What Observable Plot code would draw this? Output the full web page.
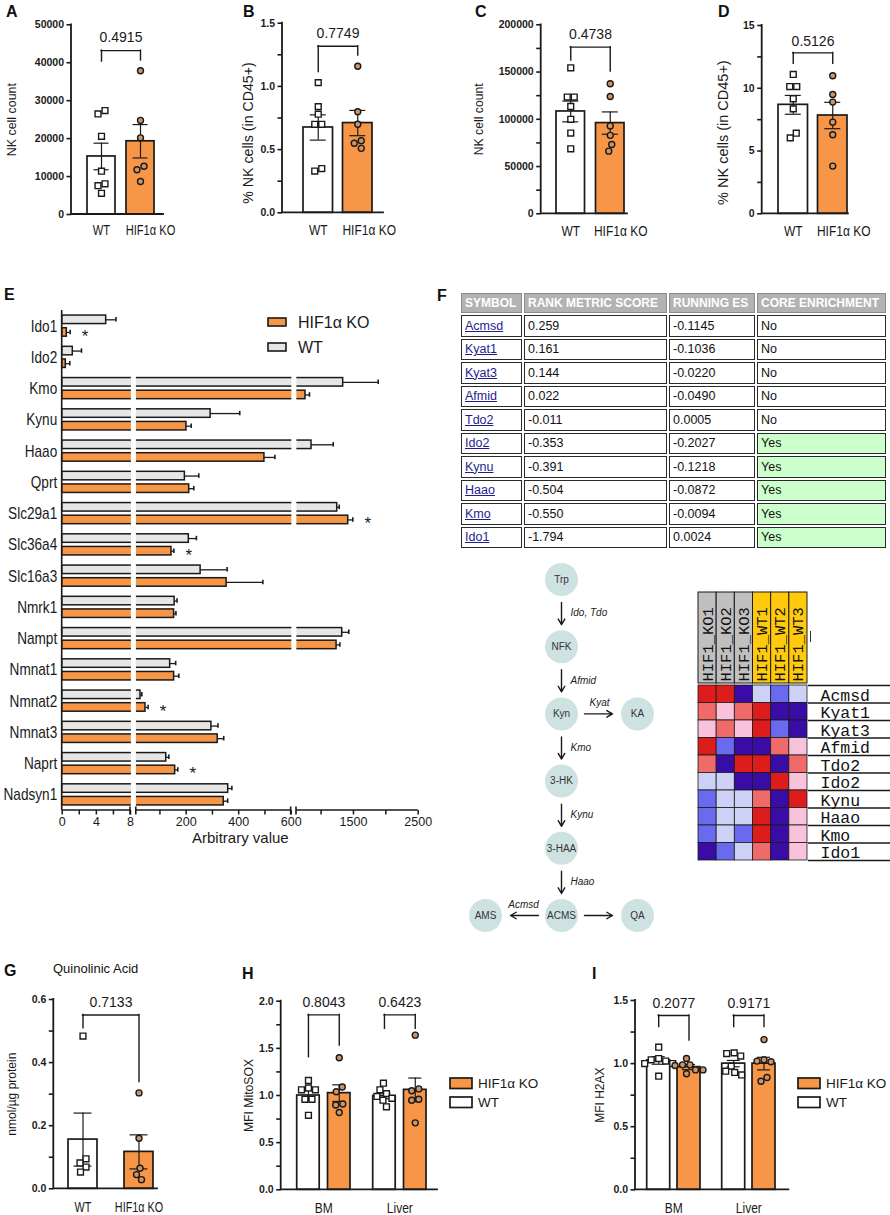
<!DOCTYPE html>
<html><head><meta charset="utf-8">
<script src="https://cdn.jsdelivr.net/npm/d3@7"></script>
<script src="https://cdn.jsdelivr.net/npm/@observablehq/plot@0.6"></script>
<style>
html,body{margin:0;padding:0;background:#fff;}
#root{position:relative;width:890px;height:1215px;overflow:hidden;background:#fff;font-family:'Liberation Sans',Arial,Helvetica,sans-serif;color:#111;}
.gp [aria-label^="y-axis"] text{font-weight:bold;}
.gp [aria-label^="y-axis"] line,.gp [aria-label^="y-axis"] path{stroke-width:1.6px;}
.ep [aria-label^="y-axis"] text{font-size:17px;}
.ep [aria-label^="x-axis"] line,.ep [aria-label^="x-axis"] path{stroke-width:1.5px;}
.lbl{position:absolute;white-space:nowrap;line-height:1;}
#gsea{position:absolute;left:459px;top:291px;border-collapse:separate;border-spacing:2px;table-layout:fixed;font-family:'Liberation Sans',Arial,sans-serif;}
#gsea th,#gsea td{border:1px solid #2a2a2a;padding:0 3px;text-align:left;vertical-align:middle;white-space:nowrap;overflow:hidden;}
#gsea th{background:#b3b3b3;color:#fff;font-weight:bold;font-size:12px;height:18px;border-color:#8c8c8c;}
#gsea td{height:19.5px;font-size:12.5px;color:#111;}
#gsea td.sym{color:#1d1d8f;text-decoration:underline;}
#gsea td.yes{background:#ccffcc;}
</style></head>
<body><div id="root"></div>
<script>
// ================= DATA =================
const seriesLabels = ["WT", "HIF1α KO"];
// Panel A – NK cell count
const aWT = [27400, 26500, 20600, 11400, 8100, 7600, 5600];
const aKO = [37900, 24800, 20200, 12700, 11800, 8700];
const aMean = [15300, 19300], aSem = [3500, 4400];
const aBracket = [43200, 40300, 40600], aP = "0.4915";
const aTicks = [0, 10000, 20000, 30000, 40000, 50000];
// Panel B – % NK cells
const bWT = [1.03, 0.84, 0.78, 0.70, 0.70, 0.33, 0.35];
const bKO = [1.16, 0.80, 0.70, 0.57, 0.55, 0.51];
const bMean = [0.675, 0.71], bSem = [0.10, 0.10];
const bBracket = [1.318, 1.113, 1.245], bP = "0.7749";
const bTicks = [0, 0.5, 1.0, 1.5], bMinor = [0.25, 0.75, 1.25];
// Panel C – NK cell count
const cWT = [154500, 123500, 123500, 113600, 100000, 85400, 68800];
const cKO = [137600, 124200, 93000, 83000, 73400, 66300];
const cMean = [108300, 96000], cSem = [11000, 11800];
const cBracket = [176400, 162300, 150600], cP = "0.4738";
const cTicks = [0, 50000, 100000, 150000, 200000], cMinor = [25000, 75000, 125000, 175000];
// Panel D – % NK cells
const dWT = [11.1, 10.14, 10.14, 9.16, 8.36, 6.05, 6.42];
const dKO = [11.0, 9.5, 8.9, 7.3, 6.3, 3.8];
const dMean = [8.68, 7.83], dSem = [0.75, 1.05];
const dBracket = [12.82, 11.95, 11.95], dP = "0.5126";
const dTicks = [0, 5, 10, 15], dMinor = [2.5, 7.5, 12.5];
// Panel E – expression
const eGenes = ["Ido1","Ido2","Kmo","Kynu","Haao","Qprt","Slc29a1","Slc36a4","Slc16a3","Nmrk1","Nampt","Nmnat1","Nmnat2","Nmnat3","Naprt","Nadsyn1"];
const eWT    = [5.15, 1.24, 1341, 293, 852, 195, 1249, 210, 255, 156, 1326, 139, 26, 296, 124, 360];
const eWTerr = [1.15, 1.02, 541, 111, 335, 53, 31, 29, 101, 9, 102, 21, 5, 25, 10, 14];
const eKO    = [0.54, 0.42, 759, 201, 498, 211.5, 1419, 144, 354, 154, 1239, 154, 45, 320, 158, 343];
const eKOerr = [0.39, 0.47, 62, 18, 40, 17.5, 71, 9, 138, 7, 51, 18, 10, 23, 10, 15];
const eStars = ["Ido1", "Slc29a1", "Slc36a4", "Nmnat2", "Naprt"];
const eTickValues = [0, 2, 4, 6, 8, 100, 200, 300, 400, 500, 600, 1000, 1500, 2000, 2500];
const eTickLabels = [0, 4, 8, 200, 400, 600, 1500, 2500];
// Panel F – GSEA table
const tHeaders = ["SYMBOL", "RANK METRIC SCORE", "RUNNING ES", "CORE ENRICHMENT"];
const tSymbols = ["Acmsd","Kyat1","Kyat3","Afmid","Tdo2","Ido2","Kynu","Haao","Kmo","Ido1"];
const tRank = ["0.259","0.161","0.144","0.022","-0.011","-0.353","-0.391","-0.504","-0.550","-1.794"];
const tES = ["-0.1145","-0.1036","-0.0220","-0.0490","0.0005","-0.2027","-0.1218","-0.0872","-0.0094","0.0024"];
const tCore = ["No","No","No","No","No","Yes","Yes","Yes","Yes","Yes"];
// Pathway
const pwNames = ["Trp","NFK","Kyn","KA","3-HK","3-HAA","ACMS","AMS","QA"];
const pwCol = [0, 0, 0, 1, 0, 0, 0, -1, 1];
const pwRow = [0, 1, 2, 2, 3, 4, 5, 5, 5];
const pwFrom = ["Trp","NFK","Kyn","Kyn","3-HK","3-HAA","ACMS","ACMS"];
const pwTo = ["NFK","Kyn","KA","3-HK","3-HAA","ACMS","AMS","QA"];
const pwEnzyme = ["Ido, Tdo","Afmid","Kyat","Kmo","Kynu","Haao","Acmsd",""];
// Heatmap
const hmSamples = ["HIF1_KO1","HIF1_KO2","HIF1_KO3","HIF1_WT1","HIF1_WT2","HIF1_WT3"];
const hmGenes = ["Acmsd","Kyat1","Kyat3","Afmid","Tdo2","Ido2","Kynu","Haao","Kmo","Ido1"];
const hmValues = [
  [3, 3, -3, -1, -2, -1],
  [2, 1, 2, 3, -3, -3],
  [1, 2, 1, 3, -2, -3],
  [3, -2, -3, -3, 2, 1],
  [2, -3, 3, 3, -3, 2],
  [-1, -1, -3, -3, 3, 1],
  [-2, -1, -1, 2, -3, 3],
  [-2, -1, -1, 3, -3, 1],
  [-2, -1, -2, 3, -3, 1],
  [-3, -2, -1, 2, -3, 1]
];
const hmLevels = [-3, -2, -1, 1, 2, 3];
// Panel G – Quinolinic acid
const gWT = [0.484, 0.095, 0.082, 0.069, 0.053];
const gKO = [0.304, 0.16, 0.065, 0.045, 0.029];
const gMean = [0.156, 0.117], gSem = [0.084, 0.054];
const gBracket = [0.551, 0.509, 0.338], gP = "0.7133";
const gTicks = [0, 0.2, 0.4, 0.6], gMinor = [0.1, 0.3, 0.5];
// Panel H – MitoSOX
const hGroups = ["BM", "Liver"];
const hWT = [[1.16, 1.06, 1.06, 1.08, 0.96, 0.96, 0.79], [1.13, 1.06, 1.02, 0.99, 0.97, 0.95, 0.88]];
const hKO = [[1.40, 1.09, 1.04, 0.90, 0.91, 0.82], [1.64, 1.07, 1.05, 0.96, 0.95, 0.71]];
const hMeanWT = [1.0, 0.995], hSemWT = [0.05, 0.03];
const hMeanKO = [1.025, 1.06], hSemKO = [0.088, 0.125];
const hTop = [1.855, 1.855], hLegWT = [1.406, 1.707], hLegKO = [1.53, 1.707], hP = ["0.8043", "0.6423"];
const hTicks = [0, 0.5, 1.0, 1.5, 2.0], hMinor = [0.25, 0.75, 1.25, 1.75];
// Panel I – H2AX
const iGroups = ["BM", "Liver"];
const iWT = [[1.13, 1.04, 1.03, 1.02, 1.0, 1.0, 0.90], [1.08, 1.085, 1.06, 0.98, 0.94, 0.93, 0.91]];
const iKO = [[1.04, 0.99, 0.99, 0.985, 0.95, 0.95, 0.92], [1.19, 1.03, 1.015, 1.02, 0.86, 0.89]];
const iMeanWT = [1.025, 1.0], iSemWT = [0.03, 0.025];
const iMeanKO = [0.972, 1.0], iSemKO = [0.02, 0.05];
const iTop = [1.381, 1.381], iLegWT = [1.289, 1.289], iLegKO = [1.183, 1.289], iP = ["0.2077", "0.9171"];
const iTicks = [0, 0.5, 1.0, 1.5], iMinor = [0.25, 0.75, 1.25];

// ================= STYLE =================
const FONT = "'Liberation Sans', Arial, Helvetica, sans-serif";
const MONO = "'Liberation Mono', 'DejaVu Sans Mono', 'Courier New', monospace";
const INK = "#1a1a1a";
const ORANGE = "#f79646";
const DOT_KO = "#cf9566";
const WT_GRAY = "#e6e6e6";
const HM_COLORS = ["#3a0ca6", "#6a6aee", "#cdd1f5", "#f8c2db", "#f06a6a", "#dd1c1c"];
const SVGNS = "http://www.w3.org/2000/svg";
const root = document.getElementById("root");

function put(node, left, top, cls) {
  node.style.position = "absolute";
  node.style.left = left + "px";
  node.style.top = top + "px";
  if (cls) node.classList.add(cls);
  root.appendChild(node);
  return node;
}
function label(text, left, baseline, size, css = "") {
  const d = document.createElement("div");
  d.className = "lbl";
  d.textContent = text;
  d.style.cssText += `left:${left}px;top:${baseline - 0.8465 * size}px;font-size:${size}px;${css}`;
  root.appendChild(d);
  return d;
}
// narrow (condensed) rendering of selected labels, as in the source figure
function condense(svg, texts, k) {
  for (const t of svg.querySelectorAll("text")) {
    if (!texts.includes(t.textContent)) continue;
    const len = t.getComputedTextLength();
    if (len > 0) { t.setAttribute("textLength", (len * k).toFixed(2)); t.setAttribute("lengthAdjust", "spacingAndGlyphs"); }
  }
}
function svgMark(draw) {
  return (index, scales, values, dims) => {
    const g = document.createElementNS(SVGNS, "g");
    g.innerHTML = draw(scales, dims);
    return g;
  };
}
function beeswarm(vals, ppu, diam) {
  const order = d3.range(vals.length).sort((a, b) => vals[b] - vals[a]);
  const placed = [], out = new Array(vals.length);
  for (const i of order) {
    const y = vals[i] * ppu;
    const near = placed.filter(p => Math.abs(p.y - y) < diam);
    const cands = [0];
    for (const p of near) {
      const h = Math.sqrt(Math.max(0, diam * diam - (p.y - y) ** 2));
      cands.push(p.dx + h, p.dx - h);
    }
    cands.sort((a, b) => Math.abs(a) - Math.abs(b) || a - b);
    const dx = cands.find(cv => near.every(p => (p.dx - cv) ** 2 + (p.y - y) ** 2 >= diam * diam - 0.01)) ?? 0;
    placed.push({y, dx, i});
    out[i] = dx;
  }
  const sorted = placed.slice().sort((a, b) => a.y - b.y);
  let cl = [];
  const flush = () => {
    if (cl.length > 1) {
      const sh = -(d3.min(cl, p => p.dx) + d3.max(cl, p => p.dx)) / 2;
      cl.forEach(p => out[p.i] = p.dx + sh);
    }
    cl = [];
  };
  for (const p of sorted) {
    if (cl.length && p.y - cl[cl.length - 1].y >= diam) flush();
    cl.push(p);
  }
  flush();
  return out;
}

// ================= GraphPad-style panel =================
function gpPanel(c) {
  const mL = c.axisX - c.left, mR = c.left + c.width - c.xEnd;
  const mT = c.yTop - c.top, mB = c.top + c.height - c.yBottom;
  const W = c.xEnd - c.axisX, n = c.groups.length;
  const bw = c.spans[0][1] - c.spans[0][0];
  const step = n > 1 ? c.spans[1][0] - c.spans[0][0] : bw;
  const pi = n > 1 ? 1 - bw / step : 0;
  const po = (W / step - n + pi) / 2;
  const align = Math.max(0, Math.min(1, (c.spans[0][0] - c.axisX) / (W - step * (n - pi))));
  const barW = c.barW, off = (bw - barW) / 2, capW = c.capW;
  const ppu = (c.yBottom - c.yTop) / (c.domain[1] - c.domain[0]);
  const marks = [];
  if (c.minor) marks.push(Plot.ruleY(c.minor, {insetRight: W - 4.5, dx: -4.5, stroke: INK, strokeWidth: 1.6}));
  const statsOf = s => c.groups.map((g, gi) => ({group: g, mean: s.mean[gi], sem: s.sem[gi]}));
  c.series.forEach((s, si) => {
    marks.push(Plot.barY(statsOf(s), {x: "group", y: "mean", fill: s.fill, stroke: INK, strokeWidth: 1.7,
      insetLeft: si ? bw - barW : 0, insetRight: si ? 0 : bw - barW}));
  });
  c.series.forEach((s, si) => {
    const sign = si ? 1 : -1;
    const st = statsOf(s);
    const capIn = barW / 2 - capW / 2, capOut = bw - barW / 2 - capW / 2;
    marks.push(Plot.ruleX(st, {x: "group", y1: d => d.mean - d.sem, y2: d => d.mean + d.sem, dx: sign * off, stroke: INK, strokeWidth: 1.2}));
    for (const yv of [d => d.mean - d.sem, d => d.mean + d.sem])
      marks.push(Plot.tickY(st, {x: "group", y: yv, insetLeft: si ? capOut : capIn, insetRight: si ? capIn : capOut, stroke: INK, strokeWidth: 1.2}));
  });
  c.series.forEach((s, si) => {
    const sign = si ? 1 : -1;
    c.groups.forEach((g, gi) => {
      const vals = s.points[gi];
      const dxs = beeswarm(vals, ppu, 7.4);
      const pts = vals.map((v, i) => ({group: g, v, dx: Math.round(dxs[i] * 2) / 2}));
      for (const [dx, arr] of d3.group(pts, d => d.dx))
        marks.push(Plot.dot(arr, {x: "group", y: "v", dx: sign * off + dx, symbol: s.symbol, r: s.r,
          fill: s.dotFill, stroke: INK, strokeWidth: 1.4}));
    });
  });
  // significance brackets
  marks.push(Plot.ruleX(c.brackets, {x: "group", y1: "legWT", y2: "top", dx: -off, stroke: INK, strokeWidth: 1.4, strokeLinecap: "square"}));
  marks.push(Plot.ruleX(c.brackets, {x: "group", y1: "legKO", y2: "top", dx: off, stroke: INK, strokeWidth: 1.4, strokeLinecap: "square"}));
  marks.push(Plot.tickY(c.brackets, {x: "group", y: "top", insetLeft: barW / 2, insetRight: barW / 2, stroke: INK, strokeWidth: 1.4, strokeLinecap: "square"}));
  marks.push(Plot.text(c.brackets, {x: "group", y: "top", text: "p", dy: c.pDy, fontSize: 14, fill: INK}));
  // category labels
  const catTexts = [];
  if (n === 1) {
    c.series.forEach((s, si) => {
      catTexts.push(seriesLabels[si]);
      marks.push(Plot.text(c.groups, {x: d => d, text: () => seriesLabels[si], frameAnchor: "bottom", lineAnchor: "middle", textAnchor: "middle",
        dy: c.labelDy, dx: (si ? 1 : -1) * off + (si ? (c.koShift || 0) : 0), fontSize: c.catSize, fill: INK}));
    });
  } else {
    catTexts.push(...c.groups);
    marks.push(Plot.text(c.groups, {x: d => d, text: d => d, frameAnchor: "bottom", lineAnchor: "middle", textAnchor: "middle",
      dy: c.labelDy, fontSize: c.catSize, fill: INK}));
  }
  marks.push(Plot.text([c.title], {text: d => d, frameAnchor: "left", textAnchor: "middle", lineAnchor: "middle", rotate: -90,
    dx: c.titleX - c.axisX, dy: c.titleDy || 0, fontSize: c.titleSize, fill: INK}));
  marks.push(svgMark((sc, d) => `<path d="M${d.marginLeft},${d.marginTop}V${d.height - d.marginBottom}H${d.width - d.marginRight}" fill="none" stroke="${INK}" stroke-width="1.8" stroke-linecap="square"/>`));
  const svg = Plot.plot({
    width: c.width, height: c.height, marginLeft: mL, marginRight: mR, marginTop: mT, marginBottom: mB,
    x: {type: "band", domain: c.groups, paddingInner: pi, paddingOuter: po, align, round: false, axis: null},
    y: {domain: c.domain, ticks: c.ticks, tickFormat: c.fmt, tickSize: 4.5, tickPadding: 3, label: null},
    style: {fontFamily: FONT, fontSize: "10.5px", background: "transparent", overflow: "visible", color: INK},
    marks
  });
  put(svg, c.left, c.top, "gp");
  condense(svg, catTexts, c.catK);
  return svg;
}

function twoSeries(wt, ko, mean, sem) {
  return [
    {mean: [mean[0]], sem: [sem[0]], points: [wt], fill: "white", symbol: "square", r: 3.3, dotFill: "white"},
    {mean: [mean[1]], sem: [sem[1]], points: [ko], fill: ORANGE, symbol: "circle", r: 3.0, dotFill: DOT_KO}
  ];
}
function oneBracket(b, p) { return [{group: "all", top: b[0], legWT: b[1], legKO: b[2], p}]; }
function groupedSeries(wt, ko, mWT, sWT, mKO, sKO) {
  return [
    {mean: mWT, sem: sWT, points: wt, fill: "white", symbol: "square", r: 3.3, dotFill: "white"},
    {mean: mKO, sem: sKO, points: ko, fill: ORANGE, symbol: "circle", r: 3.0, dotFill: DOT_KO}
  ];
}
function groupedBrackets(groups, top, lw, lk, p) {
  return groups.map((g, i) => ({group: g, top: top[i], legWT: lw[i], legKO: lk[i], p: p[i]}));
}
const fmtInt = d3.format("d"), fmt1 = d3.format(".1f");

gpPanel({left: 0, top: 0, width: 180, height: 245, axisX: 71, xEnd: 163, yTop: 24.3, yBottom: 214,
  domain: [0, 50000], ticks: aTicks, minor: null, fmt: fmtInt, groups: ["all"], spans: [[87, 154]], barW: 28, capW: 15,
  title: "NK cell count", titleX: 12, titleSize: 12.4, labelDy: 16, pDy: -13, catSize: 15, catK: 0.74, koShift: 10,
  series: twoSeries(aWT, aKO, aMean, aSem), brackets: oneBracket(aBracket, aP)});
gpPanel({left: 236, top: 0, width: 165, height: 245, axisX: 282, xEnd: 383, yTop: 22.7, yBottom: 212.3,
  domain: [0, 1.5], ticks: bTicks, minor: bMinor, fmt: fmt1, groups: ["all"], spans: [[303, 372]], barW: 29.5, capW: 16,
  title: "% NK cells (in CD45+)", titleX: 248, titleDy: 15, titleSize: 14.2, labelDy: 17, pDy: -13, catSize: 15, catK: 0.8, koShift: 11.5,
  series: twoSeries(bWT, bKO, bMean, bSem), brackets: oneBracket(bBracket, bP)});
gpPanel({left: 468, top: 0, width: 175, height: 245, axisX: 540.7, xEnd: 627, yTop: 24.3, yBottom: 213.3,
  domain: [0, 200000], ticks: cTicks, minor: cMinor, fmt: fmtInt, groups: ["all"], spans: [[556, 624]], barW: 28.5, capW: 16,
  title: "NK cell count", titleX: 479, titleSize: 12.2, labelDy: 17, pDy: -13, catSize: 15, catK: 0.8, koShift: 10.5,
  series: twoSeries(cWT, cKO, cMean, cSem), brackets: oneBracket(cBracket, cP)});
gpPanel({left: 712, top: 0, width: 170, height: 245, axisX: 761.7, xEnd: 848, yTop: 25, yBottom: 213.3,
  domain: [0, 15], ticks: dTicks, minor: dMinor, fmt: fmtInt, groups: ["all"], spans: [[778, 847]], barW: 29.5, capW: 16,
  title: "% NK cells (in CD45+)", titleX: 723, titleDy: 13, titleSize: 14.5, labelDy: 17, pDy: -11, catSize: 15, catK: 0.8, koShift: 11,
  series: twoSeries(dWT, dKO, dMean, dSem), brackets: oneBracket(dBracket, dP)});
gpPanel({left: 0, top: 955, width: 172, height: 260, axisX: 53.3, xEnd: 157, yTop: 999, yBottom: 1188.3,
  domain: [0, 0.6], ticks: gTicks, minor: gMinor, fmt: fmt1, groups: ["all"], spans: [[68, 153]], barW: 29, capW: 18,
  title: "nmol/µg protein", titleX: 12, titleSize: 12, labelDy: 18, pDy: -12, catSize: 15, catK: 0.72,
  series: twoSeries(gWT, gKO, gMean, gSem), brackets: oneBracket(gBracket, gP)});
gpPanel({left: 236, top: 955, width: 210, height: 260, axisX: 280.7, xEnd: 437, yTop: 1000.7, yBottom: 1189.3,
  domain: [0, 2], ticks: hTicks, minor: hMinor, fmt: fmt1, groups: hGroups, spans: [[296.7, 350], [372.7, 426.7]], barW: 22.5, capW: 13,
  title: "MFI MitoSOX", titleX: 248.3, titleSize: 12.2, labelDy: 18, pDy: -12, catSize: 15, catK: 0.8,
  series: groupedSeries(hWT, hKO, hMeanWT, hSemWT, hMeanKO, hSemKO), brackets: groupedBrackets(hGroups, hTop, hLegWT, hLegKO, hP)});
gpPanel({left: 588, top: 955, width: 210, height: 260, axisX: 635, xEnd: 788.3, yTop: 1000, yBottom: 1189.3,
  domain: [0, 1.5], ticks: iTicks, minor: iMinor, fmt: fmt1, groups: iGroups, spans: [[646.7, 700], [721.7, 776]], barW: 23, capW: 13,
  title: "MFI H2AX", titleX: 600, titleSize: 12, labelDy: 18, pDy: -12, catSize: 15, catK: 0.8,
  series: groupedSeries(iWT, iKO, iMeanWT, iSemWT, iMeanKO, iSemKO), brackets: groupedBrackets(iGroups, iTop, iLegWT, iLegKO, iP)});

// ================= Panel E (broken axis bars) =================
(function () {
  const left = 0, top = 290, width = 445, height = 565;
  const frameTop = 310, frameBottom = 810;
  const n = eGenes.length, pi = 0.324, po = 0.162;
  const stepY = (frameBottom - frameTop) / (n - pi + 2 * po);
  const bw = stepY * (1 - pi), barH = 8.5, inset = bw - barH, off = inset / 2;
  const xDomain = [0, 8, 10, 600, 620, 2500];
  const xRange = [61.7, 130, 135.8, 290.7, 296, 417.7];
  const segments = [[0, 8], [10, 600], [620, 2500]];
  const gaps = [9, 610];
  const rows = (v, e) => eGenes.map((g, i) => ({gene: g, v: v[i], e: e[i]}));
  const wt = rows(eWT, eWTerr), ko = rows(eKO, eKOerr);
  const svg = Plot.plot({
    width, height, marginLeft: 61.7, marginRight: 27, marginTop: frameTop - top, marginBottom: top + height - frameBottom,
    x: {type: "linear", domain: xDomain, range: xRange, ticks: eTickValues,
        tickFormat: d => eTickLabels.includes(d) ? String(d) : "", tickSize: 4.5, tickPadding: 2, label: null},
    y: {type: "band", domain: eGenes, paddingInner: pi, paddingOuter: po, round: false, tickSize: 0, tickPadding: 5, label: null},
    style: {fontFamily: FONT, fontSize: "12.5px", background: "transparent", overflow: "visible", color: INK},
    marks: [
      Plot.barX(wt, {y: "gene", x: "v", fill: WT_GRAY, stroke: INK, strokeWidth: 1.5, insetBottom: inset}),
      Plot.barX(ko, {y: "gene", x: "v", fill: ORANGE, stroke: INK, strokeWidth: 1.5, insetTop: inset}),
      Plot.ruleX(gaps, {stroke: "white", strokeWidth: 5}),
      Plot.ruleY(wt, {y: "gene", x1: "v", x2: d => d.v + d.e, dy: -off, stroke: INK, strokeWidth: 1.3}),
      Plot.ruleY(ko, {y: "gene", x1: "v", x2: d => d.v + d.e, dy: off, stroke: INK, strokeWidth: 1.3}),
      Plot.tickX(wt, {y: "gene", x: d => d.v + d.e, insetTop: 2, insetBottom: inset + 2, stroke: INK, strokeWidth: 1.6}),
      Plot.tickX(ko, {y: "gene", x: d => d.v + d.e, insetTop: inset + 2, insetBottom: 2, stroke: INK, strokeWidth: 1.6}),
      Plot.text(ko.filter(d => eStars.includes(d.gene)), {y: "gene", x: d => d.v + d.e, dx: 15, dy: off + 4, text: () => "*", fontSize: 17, fill: INK}),
      Plot.text(["Arbitrary value"], {text: d => d, frameAnchor: "bottom", lineAnchor: "middle", textAnchor: "middle", dy: 28, fontSize: 15, fill: INK}),
      svgMark((sc, d) => {
        const x = sc.x, B = d.height - d.marginBottom;
        let s = `<g stroke="${INK}" fill="none" stroke-width="1.6">`;
        s += `<path d="M${d.marginLeft},${d.marginTop}V${B}"/>`;
        for (const [a, b] of segments) s += `<line x1="${x(a)}" x2="${x(b)}" y1="${B}" y2="${B}"/>`;
        for (const v of [8, 10, 600, 620]) s += `<line x1="${x(v)}" x2="${x(v)}" y1="${B - 3.5}" y2="${B + 4.5}"/>`;
        return s + `</g>`;
      })
    ]
  });
  put(svg, left, top, "ep");
  condense(svg, eGenes, 0.8);
})();

// ================= Legends =================
function legend(left, top, items, o) {
  const pad = 8;
  const svg = document.createElementNS(SVGNS, "svg");
  svg.setAttribute("width", o.w); svg.setAttribute("height", o.h + 2 * pad);
  let s = "";
  items.forEach((it, i) => {
    const y = pad + i * o.gap;
    s += `<rect x="1" y="${y}" width="${o.bw}" height="${o.bh}" fill="${it.fill}" stroke="${INK}" stroke-width="${o.sw}"/>`;
    s += `<text x="${o.tx}" y="${y + o.bh / 2}" dominant-baseline="central" font-family="${FONT}" font-size="${o.fs}" fill="${INK}">${it.label}</text>`;
  });
  svg.innerHTML = s;
  return put(svg, left, top - pad);
}
legend(267, 318, [{label: "HIF1α KO", fill: ORANGE}, {label: "WT", fill: WT_GRAY}], {w: 150, h: 40, gap: 25, bw: 18, bh: 8, sw: 1.6, tx: 31, fs: 16});
legend(449, 1078, [{label: "HIF1α KO", fill: ORANGE}, {label: "WT", fill: "white"}], {w: 120, h: 36, gap: 19, bw: 22, bh: 10.5, sw: 1.7, tx: 29, fs: 13.5});
legend(797, 1078, [{label: "HIF1α KO", fill: ORANGE}, {label: "WT", fill: "white"}], {w: 93, h: 36, gap: 19, bw: 22, bh: 10.5, sw: 1.7, tx: 29, fs: 13.5});

// ================= Panel F table =================
(function () {
  const tbl = document.createElement("table");
  tbl.id = "gsea";
  const widths = [53, 135, 78, 121];
  const hr = document.createElement("tr");
  tHeaders.forEach((h, i) => { const th = document.createElement("th"); th.textContent = h; th.style.width = widths[i] + "px"; hr.appendChild(th); });
  tbl.appendChild(hr);
  tSymbols.forEach((sym, i) => {
    const tr = document.createElement("tr");
    [[sym, "sym"], [tRank[i], ""], [tES[i], ""], [tCore[i], tCore[i] === "Yes" ? "yes" : ""]].forEach(([t, cls]) => {
      const td = document.createElement("td"); td.textContent = t; if (cls) td.className = cls; tr.appendChild(td);
    });
    tbl.appendChild(tr);
  });
  root.appendChild(tbl);
})();

// ================= Pathway diagram =================
(function () {
  const nodes = pwNames.map((name, i) => ({name, col: pwCol[i], row: pwRow[i]}));
  const byName = new Map(nodes.map(d => [d.name, d]));
  const edges = pwFrom.map((f, i) => {
    const a = byName.get(f), b = byName.get(pwTo[i]);
    return {x1: a.col, y1: a.row, x2: b.col, y2: b.row, enz: pwEnzyme[i]};
  });
  const vEdges = edges.filter(e => e.x1 === e.x2), hEdges = edges.filter(e => e.y1 === e.y2);
  const svg = Plot.plot({
    width: 230, height: 380, margin: 0,
    x: {domain: [-1, 1], range: [45, 197], axis: null},
    y: {domain: [0, 5], range: [24, 360], axis: null},
    style: {fontFamily: FONT, background: "transparent", overflow: "visible"},
    marks: [
      Plot.arrow(vEdges, {x1: "x1", y1: "y1", x2: "x2", y2: "y2", insetStart: 23, insetEnd: 22, headLength: 7, stroke: INK, strokeWidth: 1.4}),
      Plot.arrow(hEdges, {x1: "x1", y1: "y1", x2: "x2", y2: "y2", insetStart: 23, insetEnd: 25, headLength: 7, stroke: INK, strokeWidth: 1.4}),
      Plot.dot(nodes, {x: "col", y: "row", r: 16.5, fill: "#cfe2e2"}),
      Plot.text(nodes, {x: "col", y: "row", text: "name", fontSize: 10, fill: "#333"}),
      Plot.text(vEdges, {x: "x1", y: d => (d.y1 + d.y2) / 2, text: "enz", dx: 9, textAnchor: "start", fontStyle: "italic", fontSize: 10, fill: "#222"}),
      Plot.text(hEdges.filter(d => d.enz), {x: d => (d.x1 + d.x2) / 2, y: "y1", text: "enz", dy: -11, fontStyle: "italic", fontSize: 10, fill: "#222"})
    ]
  });
  put(svg, 440, 555);
})();

// ================= Heatmap =================
(function () {
  const header = Plot.plot({
    width: 111, height: 93, marginLeft: 1, marginRight: 0, marginTop: 1, marginBottom: 1,
    x: {type: "band", domain: hmSamples, range: [1, 110], padding: 0, round: false, axis: null},
    color: {domain: ["KO", "WT"], range: ["#c0c0c0", "#ffc90e"]},
    style: {background: "transparent", overflow: "visible"},
    marks: [
      Plot.cell(hmSamples, {x: d => d, fill: d => d.includes("KO") ? "KO" : "WT", stroke: INK, strokeWidth: 1, inset: 0}),
      Plot.text(hmSamples, {x: d => d, text: d => d, frameAnchor: "bottom", rotate: -90, textAnchor: "start", lineAnchor: "middle", dy: -2,
        fontFamily: MONO, fontSize: 15.5, fill: "#111"})
    ]
  });
  put(header, 697, 591);
  const hmData = hmGenes.flatMap((g, gi) => hmSamples.map((s, si) => ({gene: g, sample: s, level: hmValues[gi][si]})));
  const rowH = 175 / hmGenes.length;
  const body = Plot.plot({
    width: 193, height: 178, marginLeft: 1, marginRight: 0, marginTop: 1, marginBottom: 1,
    x: {type: "band", domain: hmSamples, range: [1, 110], padding: 0, round: false, axis: null},
    y: {type: "band", domain: hmGenes, range: [1, 176], padding: 0, round: false, axis: null},
    color: {type: "ordinal", domain: hmLevels, range: HM_COLORS},
    style: {background: "transparent", overflow: "visible"},
    marks: [
      Plot.cell(hmData, {x: "sample", y: "gene", fill: "level", stroke: INK, strokeWidth: 0.8, inset: 0}),
      Plot.ruleY(hmGenes, {y: d => d, dy: rowH / 2, insetLeft: 110, stroke: INK, strokeWidth: 1.3}),
      Plot.ruleY([hmGenes[0]], {y: d => d, dy: -rowH / 2, insetLeft: 110, stroke: INK, strokeWidth: 1.3}),
      Plot.text(hmGenes, {y: d => d, text: d => d, frameAnchor: "left", lineAnchor: "middle", dx: 122, dy: 1, textAnchor: "start",
        fontFamily: MONO, fontSize: 16.5, fill: "#111"})
    ]
  });
  put(body, 697, 684);
  const tick = document.createElement("div");
  tick.style.cssText = "width:0;height:11px;border-left:1px solid #333;";
  put(tick, 810, 631);
})();

// ================= Panel letters & titles =================
[["A", 6, 18], ["B", 243, 18], ["C", 475, 18], ["D", 718, 18], ["E", 4, 301], ["F", 437, 302],
 ["G", 4, 977], ["H", 242, 980], ["I", 592, 980]].forEach(([t, x, y]) => label(t, x, y, 16, "font-weight:bold;"));
label("Quinolinic Acid", 53, 973, 13);
</script></body></html>
